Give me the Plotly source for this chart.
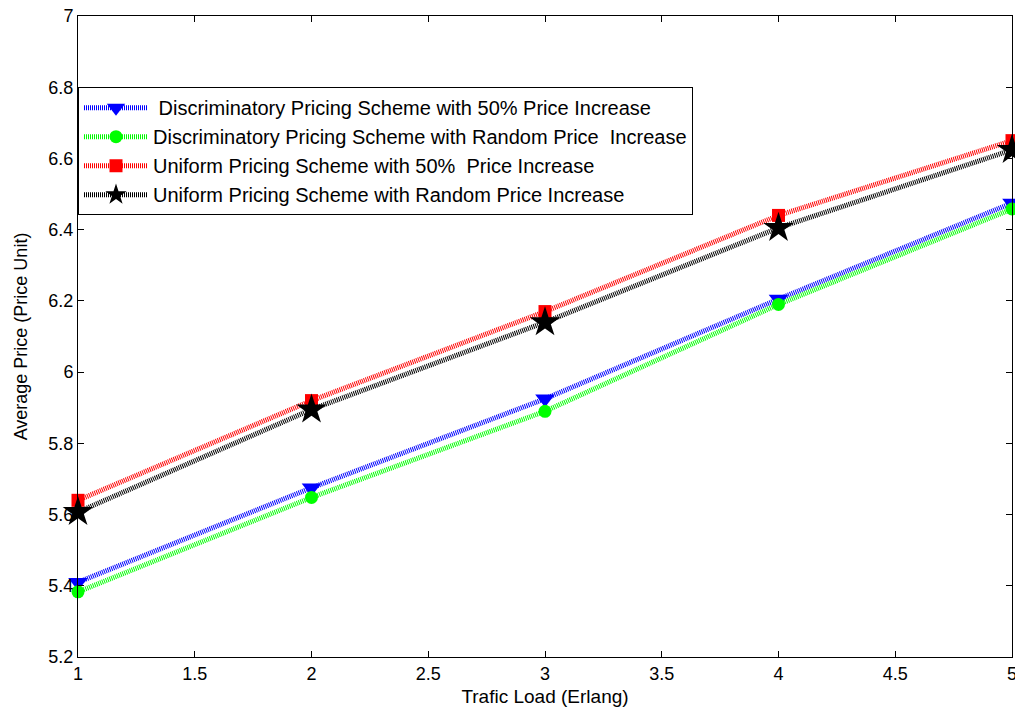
import plotly.graph_objects as go

# Traffic load (Erlang)
traffic_load = [1, 2, 3, 4, 5]

# Average price per scheme
disc_50 = [5.41, 5.675, 5.925, 6.205, 6.475]
disc_random = [5.383, 5.648, 5.89, 6.19, 6.458]
unif_50 = [5.64, 5.92, 6.17, 6.44, 6.65]
unif_random = [5.607, 5.895, 6.14, 6.405, 6.624]

series_names = [
    " Discriminatory Pricing Scheme with 50% Price Increase",
    "Discriminatory Pricing Scheme with Random Price\u00a0 Increase",
    "Uniform Pricing Scheme with 50%\u00a0 Price Increase",
    "Uniform Pricing Scheme with Random Price Increase",
]

x_ticks = [1, 1.5, 2, 2.5, 3, 3.5, 4, 4.5, 5]
y_ticks = [5.2, 5.4, 5.6, 5.8, 6, 6.2, 6.4, 6.6, 6.8, 7]

styles = [
    (disc_50, "#0000ff", "triangle-down", 17),
    (disc_random, "#00ff00", "circle", 13),
    (unif_50, "#ff0000", "square", 13),
    (unif_random, "#000000", "star", 23),
]

fig = go.Figure()
for (values, color, symbol, size), name in zip(styles, series_names):
    fig.add_trace(go.Scatter(
        x=traffic_load, y=values, name=name, mode="lines+markers",
        line=dict(color=color, width=5, dash="1px,1px"),
        marker=dict(symbol=symbol, size=size, color=color, line=dict(width=0)),
        cliponaxis=False,
    ))

font_family = "Arial, Liberation Sans, sans-serif"
axis_common = dict(
    showline=True, linecolor="black", linewidth=1, mirror="allticks",
    ticks="inside", ticklen=6, tickcolor="black", showgrid=False,
    zeroline=False, ticklabeloverflow="allow", automargin=False,
    tickfont=dict(family=font_family, size=18, color="black"),
)

fig.update_layout(
    width=1015, height=708,
    margin=dict(l=78, r=3, t=16, b=51),
    paper_bgcolor="white", plot_bgcolor="white",
    font=dict(family=font_family, color="black"),
    xaxis=dict(range=[1, 5], tickvals=x_ticks,
               title=dict(text="Trafic Load (Erlang)", font=dict(size=19), standoff=7),
               **axis_common),
    yaxis=dict(range=[5.2, 7], tickvals=y_ticks,
               title=dict(text="Average Price (Price Unit)", font=dict(size=18), standoff=16),
               **axis_common),
    legend=dict(x=0.0, y=0.889, xanchor="left", yanchor="top",
                bgcolor="white", bordercolor="black", borderwidth=1,
                font=dict(family=font_family, size=20, color="black"),
                tracegroupgap=0, itemwidth=64),
    showlegend=True,
)

fig.write_html("out.html")
